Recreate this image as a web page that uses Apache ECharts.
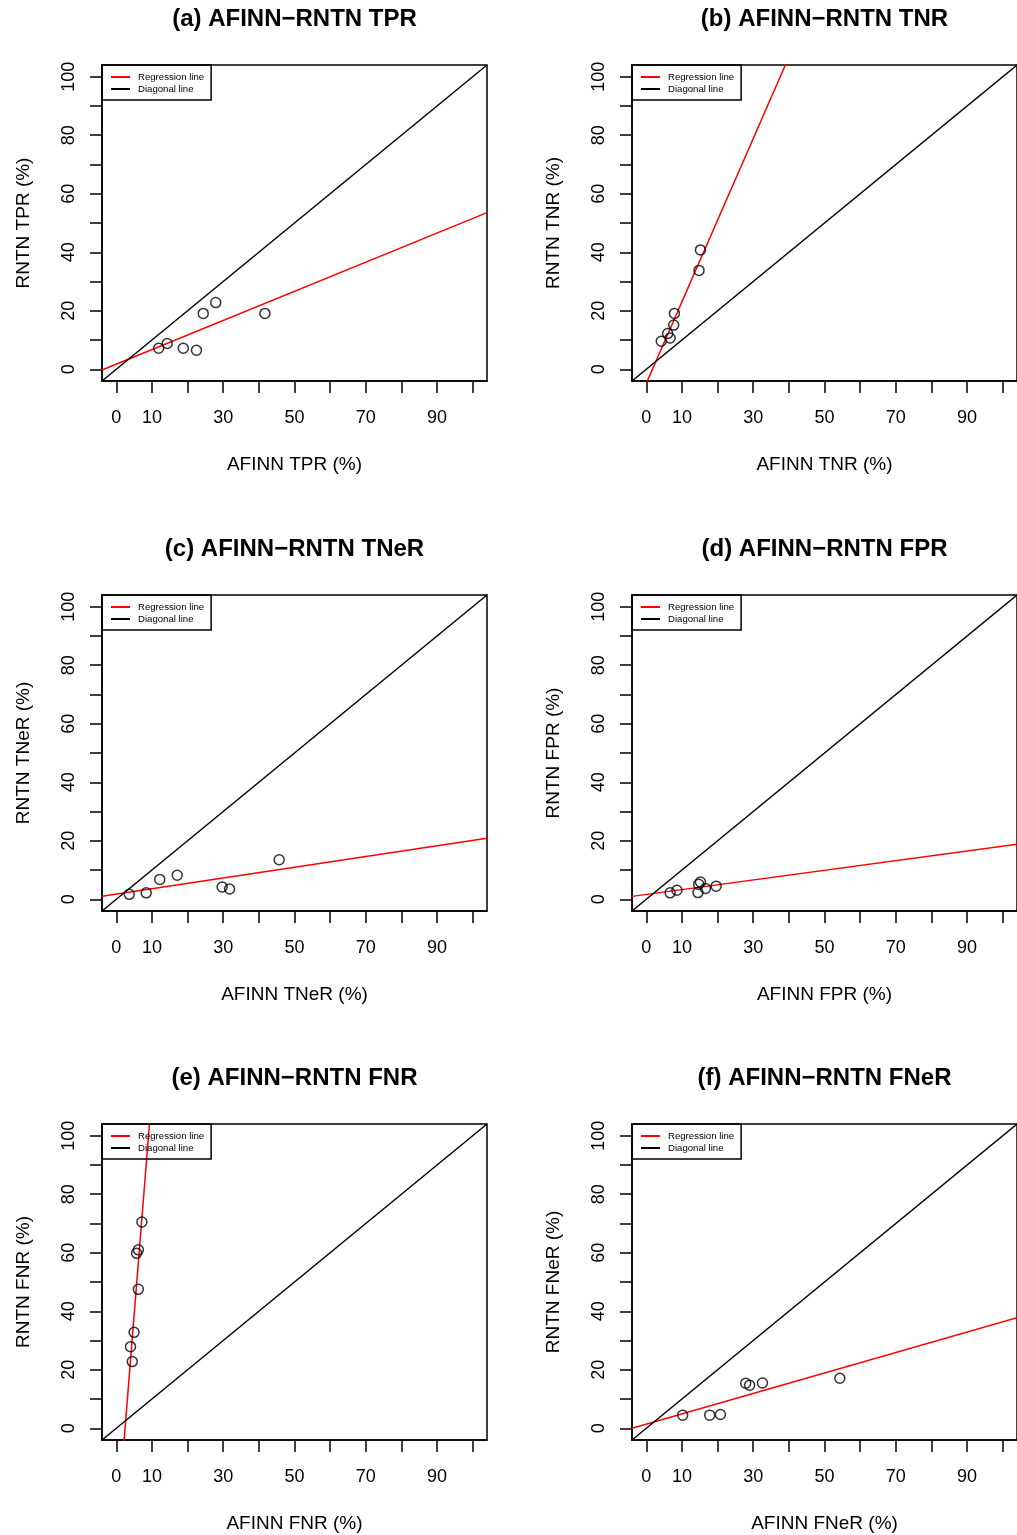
<!DOCTYPE html>
<html><head><meta charset="utf-8">
<script src="https://cdn.jsdelivr.net/npm/echarts@6/dist/echarts.min.js"></script>
<style>html,body{margin:0;padding:0;background:#fff}#c{width:1017px;height:1535px}</style>
</head><body><div id="c"></div>
<script>
// ---- data ----
const panelTitles = ['(a) AFINN\u2212RNTN TPR', '(b) AFINN\u2212RNTN TNR', '(c) AFINN\u2212RNTN TNeR',
                     '(d) AFINN\u2212RNTN FPR', '(e) AFINN\u2212RNTN FNR', '(f) AFINN\u2212RNTN FNeR'];
const xNames = ['AFINN TPR (%)', 'AFINN TNR (%)', 'AFINN TNeR (%)', 'AFINN FPR (%)', 'AFINN FNR (%)', 'AFINN FNeR (%)'];
const yNames = ['RNTN TPR (%)', 'RNTN TNR (%)', 'RNTN TNeR (%)', 'RNTN FPR (%)', 'RNTN FNR (%)', 'RNTN FNeR (%)'];

const afinnTPR  = [11.9, 14.3, 18.8, 22.5, 24.4, 27.9, 41.7];
const rntnTPR   = [7.2, 8.8, 7.2, 6.5, 19.1, 22.8, 19.1];
const afinnTNR  = [15.2, 14.8, 7.9, 7.7, 6.0, 6.7, 4.2];
const rntnTNR   = [40.8, 33.8, 19.1, 15.1, 12.2, 10.7, 9.6];
const afinnTNeR = [3.65, 8.4, 12.2, 17.1, 29.7, 31.8, 45.7];
const rntnTNeR  = [1.7, 2.2, 6.8, 8.2, 4.2, 3.5, 13.5];
const afinnFPR  = [6.7, 8.6, 14.5, 14.7, 15.2, 16.6, 19.6];
const rntnFPR   = [2.2, 3.1, 2.3, 5.1, 5.9, 3.7, 4.5];
const afinnFNR  = [7.2, 6.2, 5.7, 6.2, 5.0, 4.0, 4.5];
const rntnFNR   = [70.5, 61.0, 59.8, 47.5, 32.8, 27.9, 22.8];
const afinnFNeR = [10.2, 17.8, 20.8, 27.9, 29.0, 32.6, 54.3];
const rntnFNeR  = [4.5, 4.5, 4.7, 15.4, 14.7, 15.5, 17.1];

// regression line coefficients (intercept, slope) per panel
const regIntercept = [1.74, -4.86, 1.75, 1.66, -37.5, 1.4];
const regSlope     = [0.498, 2.79, 0.184, 0.165, 15.2, 0.35];

const axisRange = [-4, 104];
const tickValues = [0, 10, 20, 30, 40, 50, 60, 70, 80, 90, 100];
const xLabelValues = [0, 10, 30, 50, 70, 90];
const yLabelValues = [0, 20, 40, 60, 80, 100];

// ---- layout ----
const xs = [afinnTPR, afinnTNR, afinnTNeR, afinnFPR, afinnFNR, afinnFNeR];
const ys = [rntnTPR, rntnTNR, rntnTNeR, rntnFPR, rntnFNR, rntnFNeR];
const colLeft = [102, 632];
const rowTop = [65, 595, 1124];
const gW = 385, gH = 316;
const FONT = '"Liberation Sans", Arial, Helvetica, sans-serif';

const grid = [], xAxis = [], yAxis = [], series = [], title = [], legend = [];
for (let i = 0; i < 6; i++) {
  const row = Math.floor(i / 2), col = i % 2;
  const L = colLeft[col], T = rowTop[row];
  grid.push({left: L, top: T, width: gW, height: gH, show: true, borderColor: '#000', borderWidth: 1.5,
             backgroundColor: 'transparent', containLabel: false});
  title.push({text: panelTitles[i], left: L + gW / 2, top: T - 58, textAlign: 'center', padding: 0,
              textStyle: {fontFamily: FONT, fontWeight: 'bold', fontSize: 24, color: '#000'}});
  xAxis.push({gridIndex: i, type: 'value', position: 'bottom', min: axisRange[0], max: axisRange[1],
    axisLine: {show: true, onZero: false, lineStyle: {color: '#000', width: 1.5}}, splitLine: {show: false},
    axisTick: {show: true, inside: false, length: 12, customValues: tickValues, lineStyle: {color: '#000', width: 1.5}},
    axisLabel: {customValues: xLabelValues, margin: 28, fontSize: 18, color: '#000', fontFamily: FONT},
    name: xNames[i], nameLocation: 'middle', nameGap: 74,
    nameTextStyle: {fontSize: 19, color: '#000', fontFamily: FONT}});
  yAxis.push({gridIndex: i, type: 'value', position: 'left', min: axisRange[0], max: axisRange[1],
    axisLine: {show: true, onZero: false, lineStyle: {color: '#000', width: 1.5}}, splitLine: {show: false},
    axisTick: {show: true, inside: false, length: 12, customValues: tickValues, lineStyle: {color: '#000', width: 1.5}},
    axisLabel: {customValues: yLabelValues, rotate: 90, margin: 24, fontSize: 18, color: '#000', fontFamily: FONT},
    name: yNames[i], nameLocation: 'middle', nameGap: 69,
    nameTextStyle: {fontSize: 19, color: '#000', fontFamily: FONT}});
  series.push({type: 'scatter', xAxisIndex: i, yAxisIndex: i, symbol: 'circle', symbolSize: 10,
    itemStyle: {color: 'rgba(0,0,0,0)', borderColor: '#000', borderWidth: 1.5},
    data: xs[i].map((v, k) => [v, ys[i][k]]), z: 3});
  const a = regIntercept[i], b = regSlope[i];
  series.push({type: 'line', name: 'Regression line', xAxisIndex: i, yAxisIndex: i, symbol: 'none', clip: true,
    color: '#ff0000', lineStyle: {color: '#ff0000', width: 1.5},
    data: axisRange.map(x => [x, a + b * x]), z: 2});
  series.push({type: 'line', name: 'Diagonal line', xAxisIndex: i, yAxisIndex: i, symbol: 'none', clip: true,
    color: '#000', lineStyle: {color: '#000', width: 1.5},
    data: axisRange.map(x => [x, x]), z: 2});
  legend.push({left: L, top: T, orient: 'vertical', selectedMode: false,
    itemWidth: 19, itemHeight: 2, itemGap: 0, padding: [6, 7, 5, 9],
    borderColor: '#000', borderWidth: 1.5, borderRadius: 0, backgroundColor: 'transparent',
    textStyle: {fontSize: 9.6, color: '#000', fontFamily: FONT, lineHeight: 12, padding: [0, 0, 0, 3]},
    data: [{name: 'Regression line', icon: 'rect'}, {name: 'Diagonal line', icon: 'rect'}]});
}

const chart = echarts.init(document.getElementById('c'), null, {renderer: 'canvas'});
chart.setOption({animation: false, backgroundColor: '#fff', grid, xAxis, yAxis, series, title, legend});
</script>
</body></html>
